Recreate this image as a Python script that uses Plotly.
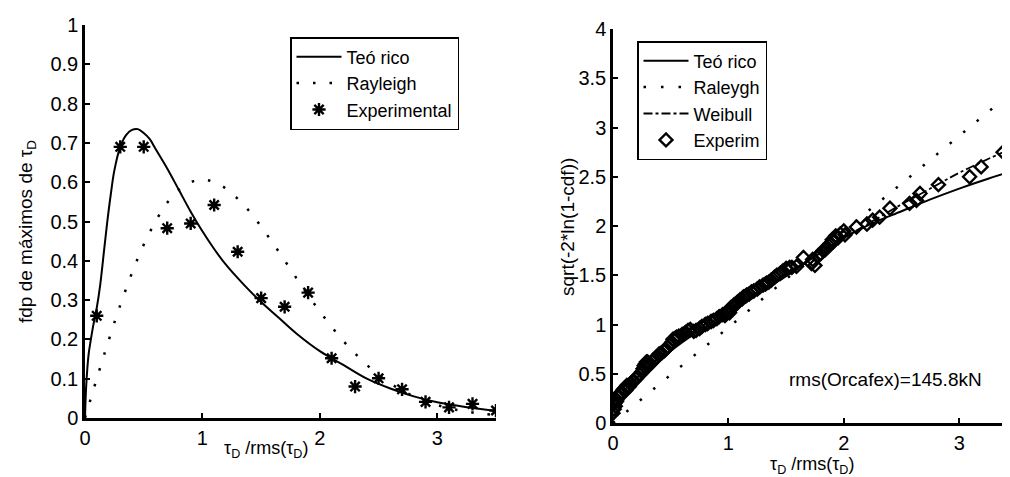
import plotly.graph_objects as go

# ---------------- Left panel data ----------------
teo_l_x = [0, 0.01, 0.03, 0.05, 0.07, 0.1, 0.13, 0.16, 0.19, 0.22, 0.25, 0.3, 0.35, 0.4, 0.45,
           0.5, 0.55, 0.6, 0.7, 0.8, 0.9, 1.0, 1.1, 1.2, 1.35, 1.5, 1.65, 1.8, 2.0, 2.2, 2.4,
           2.6, 2.8, 3.0, 3.2, 3.5]
teo_l_y = [0, 0.08, 0.16, 0.2, 0.235, 0.28, 0.34, 0.42, 0.5, 0.57, 0.63, 0.69, 0.72, 0.733, 0.735,
           0.725, 0.71, 0.685, 0.635, 0.58, 0.525, 0.475, 0.43, 0.39, 0.34, 0.295, 0.255, 0.215,
           0.17, 0.135, 0.1, 0.075, 0.055, 0.04, 0.03, 0.018]

ray_l_x = [0, 0.1, 0.2, 0.3, 0.4, 0.5, 0.6, 0.7, 0.8, 0.9, 1.0, 1.1, 1.2, 1.3, 1.4, 1.5, 1.6, 1.7,
           1.8, 1.9, 2.0, 2.1, 2.2, 2.3, 2.4, 2.5, 2.6, 2.7, 2.8, 2.9, 3.0, 3.1, 3.2, 3.3, 3.4, 3.5]
ray_l_y = [0, 0.10, 0.196, 0.287, 0.369, 0.441, 0.5, 0.548, 0.581, 0.6, 0.607, 0.6, 0.584, 0.558,
           0.526, 0.487, 0.445, 0.401, 0.356, 0.312, 0.271, 0.232, 0.196, 0.164, 0.135, 0.11,
           0.088, 0.07, 0.055, 0.043, 0.033, 0.025, 0.019, 0.014, 0.010, 0.008]

exp_l_x = [0.1, 0.3, 0.5, 0.7, 0.9, 1.1, 1.3, 1.5, 1.7, 1.9, 2.1, 2.3, 2.5, 2.7, 2.9, 3.1, 3.3, 3.5]
exp_l_y = [0.26, 0.69, 0.69, 0.483, 0.495, 0.542, 0.423, 0.305, 0.283, 0.319, 0.152, 0.08, 0.101,
           0.073, 0.041, 0.027, 0.036, 0.019]

# ---------------- Right panel data ----------------
teo_r_x = [0, 0.05, 0.1, 0.2, 0.3, 0.5, 0.75, 1.0, 1.25, 1.5, 1.75, 2.0, 2.25, 2.5, 2.75, 3.0,
           3.25, 3.44]
teo_r_y = [0.03, 0.15, 0.25, 0.38, 0.5, 0.73, 0.94, 1.12, 1.31, 1.49, 1.69, 1.88, 2.03, 2.15,
           2.27, 2.38, 2.48, 2.55]

ray_r_x = [0, 0.5, 1.0, 1.5, 2.0, 2.5, 3.0, 3.5]
ray_r_y = [0, 0.49, 0.97, 1.46, 1.95, 2.43, 2.92, 3.4]

wei_r_x = [0, 0.05, 0.1, 0.2, 0.3, 0.5, 0.75, 1.0, 1.25, 1.5, 1.75, 2.0, 2.25, 2.5, 2.75, 3.0,
           3.25, 3.44]
wei_r_y = [0.12, 0.25, 0.33, 0.45, 0.56, 0.76, 0.97, 1.15, 1.33, 1.51, 1.7, 1.88, 2.05, 2.22,
           2.38, 2.54, 2.68, 2.78]

exp_r_x = [0.0, 0.01, 0.01, 0.02, 0.02, 0.03, 0.04, 0.05, 0.06, 0.08, 0.09, 0.1, 0.11, 0.12,
           0.14, 0.15, 0.17, 0.18, 0.2, 0.21, 0.23, 0.25, 0.26, 0.27, 0.28, 0.29, 0.3, 0.31,
           0.32, 0.34, 0.35, 0.37, 0.38, 0.4, 0.42, 0.44, 0.45, 0.47, 0.5, 0.51, 0.52, 0.54,
           0.55, 0.57, 0.6, 0.62, 0.63, 0.65, 0.67, 0.7, 0.72, 0.75, 0.77, 0.8, 0.82, 0.85,
           0.87, 0.9, 0.92, 0.95, 0.97, 0.98, 1.0, 1.01, 1.02, 1.04, 1.05, 1.07, 1.08, 1.1,
           1.12, 1.13, 1.15, 1.16, 1.18, 1.2, 1.22, 1.25, 1.27, 1.3, 1.32, 1.33, 1.35, 1.37,
           1.4, 1.42, 1.45, 1.47, 1.5, 1.53, 1.55, 1.59, 1.65, 1.72, 1.73, 1.75, 1.78, 1.8,
           1.82, 1.84, 1.85, 1.87, 1.88, 1.9, 1.91, 1.93, 1.95, 1.97, 2.0, 2.01, 2.11, 2.2,
           2.25, 2.31, 2.4, 2.57, 2.63, 2.66, 2.82, 3.09, 3.19, 3.38]
exp_r_y = [0.1, 0.14, 0.2, 0.17, 0.24, 0.22, 0.27, 0.27, 0.3, 0.31, 0.34, 0.35, 0.33, 0.38,
           0.37, 0.4, 0.42, 0.43, 0.45, 0.47, 0.49, 0.52, 0.55, 0.58, 0.6, 0.62, 0.62, 0.59,
           0.6, 0.62, 0.64, 0.66, 0.67, 0.7, 0.71, 0.73, 0.74, 0.77, 0.8, 0.82, 0.85, 0.86,
           0.87, 0.88, 0.9, 0.91, 0.92, 0.94, 0.95, 0.93, 0.94, 0.96, 0.98, 1.0, 1.01, 1.03,
           1.04, 1.06, 1.08, 1.1, 1.09, 1.12, 1.14, 1.12, 1.17, 1.18, 1.2, 1.21, 1.23, 1.25,
           1.26, 1.28, 1.29, 1.3, 1.31, 1.33, 1.34, 1.36, 1.38, 1.4, 1.41, 1.42, 1.43, 1.45,
           1.48, 1.5, 1.52, 1.54, 1.57, 1.58, 1.58, 1.59, 1.68, 1.62, 1.66, 1.6, 1.7, 1.72,
           1.75, 1.76, 1.78, 1.8, 1.82, 1.86, 1.84, 1.9, 1.88, 1.92, 1.95, 1.91, 1.99, 2.02,
           2.06, 2.09, 2.18, 2.23, 2.26, 2.33, 2.42, 2.5, 2.6, 2.75]

FONT = "Liberation Sans, Arial, sans-serif"
W, H = 1010, 477
OFF = 8  # page body margin in the browser


def px(x):
    return (x - OFF) / W


def py(y):
    return 1 - (y - OFF) / H


fig = go.Figure()

# left traces
fig.add_trace(go.Scatter(x=teo_l_x, y=teo_l_y, mode="lines", name="Teó rico",
                         line=dict(color="black", width=2, shape="spline"),
                         xaxis="x", yaxis="y", legend="legend"))
fig.add_trace(go.Scatter(x=ray_l_x, y=ray_l_y, mode="lines", name="Rayleigh",
                         line=dict(color="black", width=2.5, dash="2.5px,14px", shape="spline"),
                         xaxis="x", yaxis="y", legend="legend"))
fig.add_trace(go.Scatter(x=exp_l_x, y=exp_l_y, mode="markers", name="Experimental",
                         marker=dict(symbol="asterisk-open", size=11, color="black",
                                     line=dict(color="black", width=2.4)),
                         xaxis="x", yaxis="y", legend="legend"))

# right traces
fig.add_trace(go.Scatter(x=teo_r_x, y=teo_r_y, mode="lines", name="Teó rico",
                         line=dict(color="black", width=2, shape="spline"),
                         xaxis="x2", yaxis="y2", legend="legend2"))
fig.add_trace(go.Scatter(x=ray_r_x, y=ray_r_y, mode="lines", name="Raleygh",
                         line=dict(color="black", width=2.5, dash="2.5px,15px"),
                         xaxis="x2", yaxis="y2", legend="legend2"))
fig.add_trace(go.Scatter(x=wei_r_x, y=wei_r_y, mode="lines", name="Weibull",
                         line=dict(color="black", width=1.8, dash="dashdot", shape="spline"),
                         xaxis="x2", yaxis="y2", legend="legend2"))
fig.add_trace(go.Scatter(x=exp_r_x, y=exp_r_y, mode="markers", name="Experim",
                         marker=dict(symbol="diamond-open", size=10, color="black",
                                     line=dict(color="black", width=2.4)),
                         xaxis="x2", yaxis="y2", legend="legend2"))

axis_common = dict(showgrid=False, zeroline=False, showline=True, linecolor="black",
                   linewidth=2.5, ticks="inside", ticklen=5, tickwidth=1.5,
                   tickcolor="black", tickfont=dict(family=FONT, size=20, color="black"),
                   mirror=False, automargin=False)

fig.update_layout(
    width=W, height=H,
    margin=dict(l=0, r=0, t=0, b=0, autoexpand=False),
    paper_bgcolor="white", plot_bgcolor="white",
    font=dict(family=FONT, size=18, color="black"),
    xaxis=dict(domain=[px(85), px(496)], range=[0, 3.5], tickvals=[0, 1, 2, 3],
               anchor="y", **axis_common),
    yaxis=dict(domain=[py(418), py(25)], range=[0, 1],
               tickvals=[0, 0.1, 0.2, 0.3, 0.4, 0.5, 0.6, 0.7, 0.8, 0.9, 1],
               ticktext=["0", "0.1", "0.2", "0.3", "0.4", "0.5", "0.6", "0.7", "0.8", "0.9", "1"],
               anchor="x", **axis_common),
    xaxis2=dict(domain=[px(613), px(1010)], range=[0, 3.44], tickvals=[0, 1, 2, 3],
                anchor="y2", **axis_common),
    yaxis2=dict(domain=[py(423), py(29)], range=[0, 4],
                tickvals=[0, 0.5, 1, 1.5, 2, 2.5, 3, 3.5, 4],
                ticktext=["0", "0.5", "1", "1.5", "2", "2.5", "3", "3.5", "4"],
                anchor="x2", **axis_common),
    legend=dict(x=px(290), y=py(37), xanchor="left", yanchor="top",
                bordercolor="black", borderwidth=1.5, bgcolor="white",
                font=dict(family=FONT, size=18, color="black"), itemwidth=45,
                tracegroupgap=0),
    legend2=dict(x=px(637), y=py(41), xanchor="left", yanchor="top",
                 bordercolor="black", borderwidth=1.5, bgcolor="white",
                 font=dict(family=FONT, size=18, color="black"), itemwidth=45,
                 tracegroupgap=0),
    showlegend=True,
    annotations=[
        dict(text="fdp de máximos de τ<sub>D</sub>", textangle=-90, xref="paper", yref="paper",
             x=px(27), y=py(232), showarrow=False, xanchor="center", yanchor="middle",
             font=dict(family=FONT, size=19, color="black")),
        dict(text="τ<sub>D</sub> /rms(τ<sub>D</sub>)", xref="paper", yref="paper",
             x=px(266), y=py(449), showarrow=False, xanchor="center", yanchor="middle",
             font=dict(family=FONT, size=18, color="black")),
        dict(text="sqrt(-2*ln(1-cdf))", textangle=-90, xref="paper", yref="paper",
             x=px(567), y=py(227), showarrow=False, xanchor="center", yanchor="middle",
             font=dict(family=FONT, size=19, color="black")),
        dict(text="τ<sub>D</sub> /rms(τ<sub>D</sub>)", xref="paper", yref="paper",
             x=px(812), y=py(465), showarrow=False, xanchor="center", yanchor="middle",
             font=dict(family=FONT, size=18, color="black")),
        dict(text="rms(Orcafex)=145.8kN", xref="x2", yref="y2", x=2.36, y=0.44,
             showarrow=False, xanchor="center", yanchor="middle",
             font=dict(family=FONT, size=19, color="black")),
    ],
)

fig.write_html("out.html")
